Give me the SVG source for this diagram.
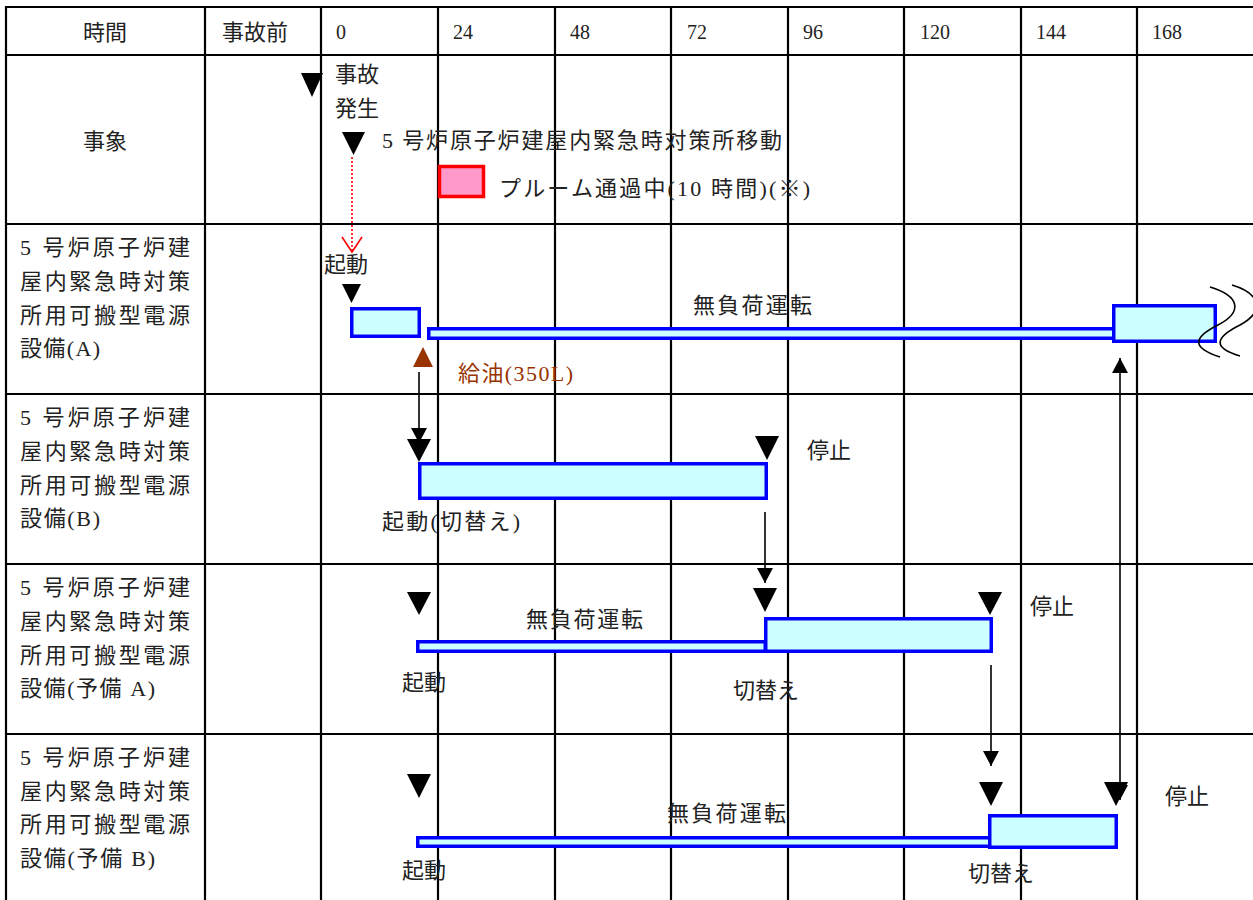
<svg xmlns="http://www.w3.org/2000/svg" width="1253" height="900" viewBox="0 0 1253 900">
<style>
.grid{stroke:#000;stroke-width:2.2;fill:none}
.ser{font-family:"Liberation Serif","Noto Sans CJK JP",serif;font-size:22px;fill:#222}
.num{font-family:"Liberation Serif",serif;font-size:20px;fill:#222}
.sans{font-family:"Noto Sans CJK JP","Noto Sans",sans-serif;font-size:22px;fill:#222}
.hdr{font-family:"Noto Sans CJK JP","Noto Sans",sans-serif;font-size:22px;fill:#222}
.bar{fill:#CCFFFF;stroke:#0000FF;stroke-width:3.5}
.tri{fill:#000}
.conn{stroke:#000;stroke-width:1.6;fill:none}
.wave{stroke:#000;stroke-width:1.6;fill:none}
</style>
<defs>
<marker id="ah" viewBox="0 0 15 16" refX="15" refY="8" markerWidth="15" markerHeight="16" markerUnits="userSpaceOnUse" orient="auto-start-reverse">
<path d="M0,0 L15,8 L0,16 z" fill="#000"/>
</marker>
</defs>
<rect x="0" y="0" width="1253" height="900" fill="#fff"/>

<g id="grid" class="grid">
<line x1="6" y1="7" x2="1253" y2="7"/>
<line x1="6" y1="55" x2="1253" y2="55"/>
<line x1="6" y1="224" x2="1253" y2="224"/>
<line x1="6" y1="394" x2="1253" y2="394"/>
<line x1="6" y1="564" x2="1253" y2="564"/>
<line x1="6" y1="734" x2="1253" y2="734"/>
<line x1="6" y1="6" x2="6" y2="900"/>
<line x1="205" y1="6" x2="205" y2="900"/>
<line x1="321" y1="6" x2="321" y2="900"/>
<line x1="438" y1="6" x2="438" y2="900"/>
<line x1="555" y1="6" x2="555" y2="900"/>
<line x1="671" y1="6" x2="671" y2="900"/>
<line x1="788" y1="6" x2="788" y2="900"/>
<line x1="904" y1="6" x2="904" y2="900"/>
<line x1="1021" y1="6" x2="1021" y2="900"/>
<line x1="1137" y1="6" x2="1137" y2="900"/>
</g>

<g id="header">
<text class="hdr" x="105" y="40" text-anchor="middle">時間</text>
<text class="hdr" x="255" y="40" text-anchor="middle">事故前</text>
<text class="num" x="336" y="39">0</text>
<text class="num" x="453" y="39">24</text>
<text class="num" x="570" y="39">48</text>
<text class="num" x="687" y="39">72</text>
<text class="num" x="803" y="39">96</text>
<text class="num" x="920" y="39">120</text>
<text class="num" x="1036" y="39">144</text>
<text class="num" x="1152" y="39">168</text>
</g>

<g id="row-labels">
<text class="hdr" x="105" y="149" text-anchor="middle">事象</text>
<text class="ser" x="20" y="255" textLength="170" lengthAdjust="spacing">5 号炉原子炉建</text>
<text class="ser" x="20" y="289" textLength="170" lengthAdjust="spacing">屋内緊急時対策</text>
<text class="ser" x="20" y="323" textLength="170" lengthAdjust="spacing">所用可搬型電源</text>
<text class="ser" x="20" y="356" textLength="80" lengthAdjust="spacing">設備(A)</text>
<text class="ser" x="20" y="425" textLength="170" lengthAdjust="spacing">5 号炉原子炉建</text>
<text class="ser" x="20" y="459" textLength="170" lengthAdjust="spacing">屋内緊急時対策</text>
<text class="ser" x="20" y="493" textLength="170" lengthAdjust="spacing">所用可搬型電源</text>
<text class="ser" x="20" y="526" textLength="80" lengthAdjust="spacing">設備(B)</text>
<text class="ser" x="20" y="595" textLength="170" lengthAdjust="spacing">5 号炉原子炉建</text>
<text class="ser" x="20" y="629" textLength="170" lengthAdjust="spacing">屋内緊急時対策</text>
<text class="ser" x="20" y="663" textLength="170" lengthAdjust="spacing">所用可搬型電源</text>
<text class="ser" x="20" y="696" textLength="135" lengthAdjust="spacing">設備(予備 A)</text>
<text class="ser" x="20" y="765" textLength="170" lengthAdjust="spacing">5 号炉原子炉建</text>
<text class="ser" x="20" y="799" textLength="170" lengthAdjust="spacing">屋内緊急時対策</text>
<text class="ser" x="20" y="832" textLength="170" lengthAdjust="spacing">所用可搬型電源</text>
<text class="ser" x="20" y="866" textLength="135" lengthAdjust="spacing">設備(予備 B)</text>
</g>

<g id="events">
<polygon class="tri" points="301,73 323,73 312,97"/>
<text class="ser" x="335" y="82">事故</text>
<text class="ser" x="335" y="116">発生</text>
<polygon class="tri" points="342,132 365,132 353.5,155"/>
<text class="ser" x="382" y="148" textLength="400" lengthAdjust="spacing">5 号炉原子炉建屋内緊急時対策所移動</text>
<rect x="439.5" y="166.5" width="44" height="30" fill="#FF99CC" stroke="#FF0000" stroke-width="3.5"/>
<text class="ser" x="499" y="196" textLength="311" lengthAdjust="spacing">プルーム通過中(10 時間)(※)</text>
</g>

<g id="unit-A">
<text class="sans" x="324" y="272">起動</text>
<polygon class="tri" points="342,284 361,284 351.5,303"/>
<rect class="bar" x="351.75" y="308.75" width="67.5" height="27.5"/>
<rect class="bar" x="428.75" y="328.75" width="686" height="9.5"/>
<rect class="bar" x="1113.75" y="305.75" width="101.5" height="35.5"/>
<text class="sans" x="693" y="313" textLength="119" lengthAdjust="spacing">無負荷運転</text>
<path class="wave" d="M1210,287 C1240,296 1243,312 1218,325 C1192,338 1192,348 1220,357"/>
<path class="wave" d="M1232,285 C1262,294 1264,312 1240,325 C1214,338 1213,348 1240,356"/>
<polygon points="413,367 433,367 423,347" fill="#993300"/>
<text class="ser" x="458" y="381" textLength="115" lengthAdjust="spacing" style="fill:#993300">給油(350L)</text>
</g>

<g id="unit-B">
<polygon class="tri" points="407,439 431,439 419,462"/>
<rect class="bar" x="419.75" y="463.75" width="346.5" height="34.5"/>
<polygon class="tri" points="755,436 779,436 767,460"/>
<text class="sans" x="807" y="458">停止</text>
<text class="ser" x="382" y="529" textLength="138" lengthAdjust="spacing">起動(切替え)</text>
</g>

<g id="unit-spareA">
<polygon class="tri" points="407,592 431,592 419,615"/>
<text class="sans" x="526" y="627" textLength="117" lengthAdjust="spacing">無負荷運転</text>
<rect class="bar" x="417.75" y="641.75" width="347.5" height="9.5"/>
<polygon class="tri" points="753,588 777,588 765,612"/>
<rect class="bar" x="765.75" y="618.75" width="225.5" height="32.5"/>
<polygon class="tri" points="978,592 1002,592 990,615"/>
<text class="sans" x="1030" y="614">停止</text>
<text class="sans" x="402" y="690">起動</text>
<text class="sans" x="733" y="698">切替え</text>
</g>

<g id="unit-spareB">
<polygon class="tri" points="407,774 431,774 419,798"/>
<text class="sans" x="667" y="821" textLength="119" lengthAdjust="spacing">無負荷運転</text>
<rect class="bar" x="417.75" y="837.75" width="572" height="8.5"/>
<polygon class="tri" points="979,782 1003,782 991,806"/>
<rect class="bar" x="989.75" y="815.75" width="126.5" height="31.5"/>
<polygon class="tri" points="1104,782 1128,782 1116,806"/>
<text class="sans" x="1165" y="804">停止</text>
<text class="sans" x="402" y="878">起動</text>
<text class="sans" x="968" y="881">切替え</text>
</g>

<g id="connectors">
<line x1="352" y1="157" x2="352" y2="251" stroke="#FF0000" stroke-width="1.6" stroke-dasharray="2,2"/>
<polyline points="342,237 352,252 362,237" fill="none" stroke="#FF0000" stroke-width="1.6"/>
<line class="conn" x1="419" y1="372" x2="419" y2="443" marker-end="url(#ah)"/>
<line class="conn" x1="765" y1="512" x2="765" y2="583" marker-end="url(#ah)"/>
<line class="conn" x1="991" y1="665" x2="991" y2="766" marker-end="url(#ah)"/>
<line class="conn" x1="1120" y1="358" x2="1120" y2="800" marker-start="url(#ah)" marker-end="url(#ah)"/>
</g>
</svg>
